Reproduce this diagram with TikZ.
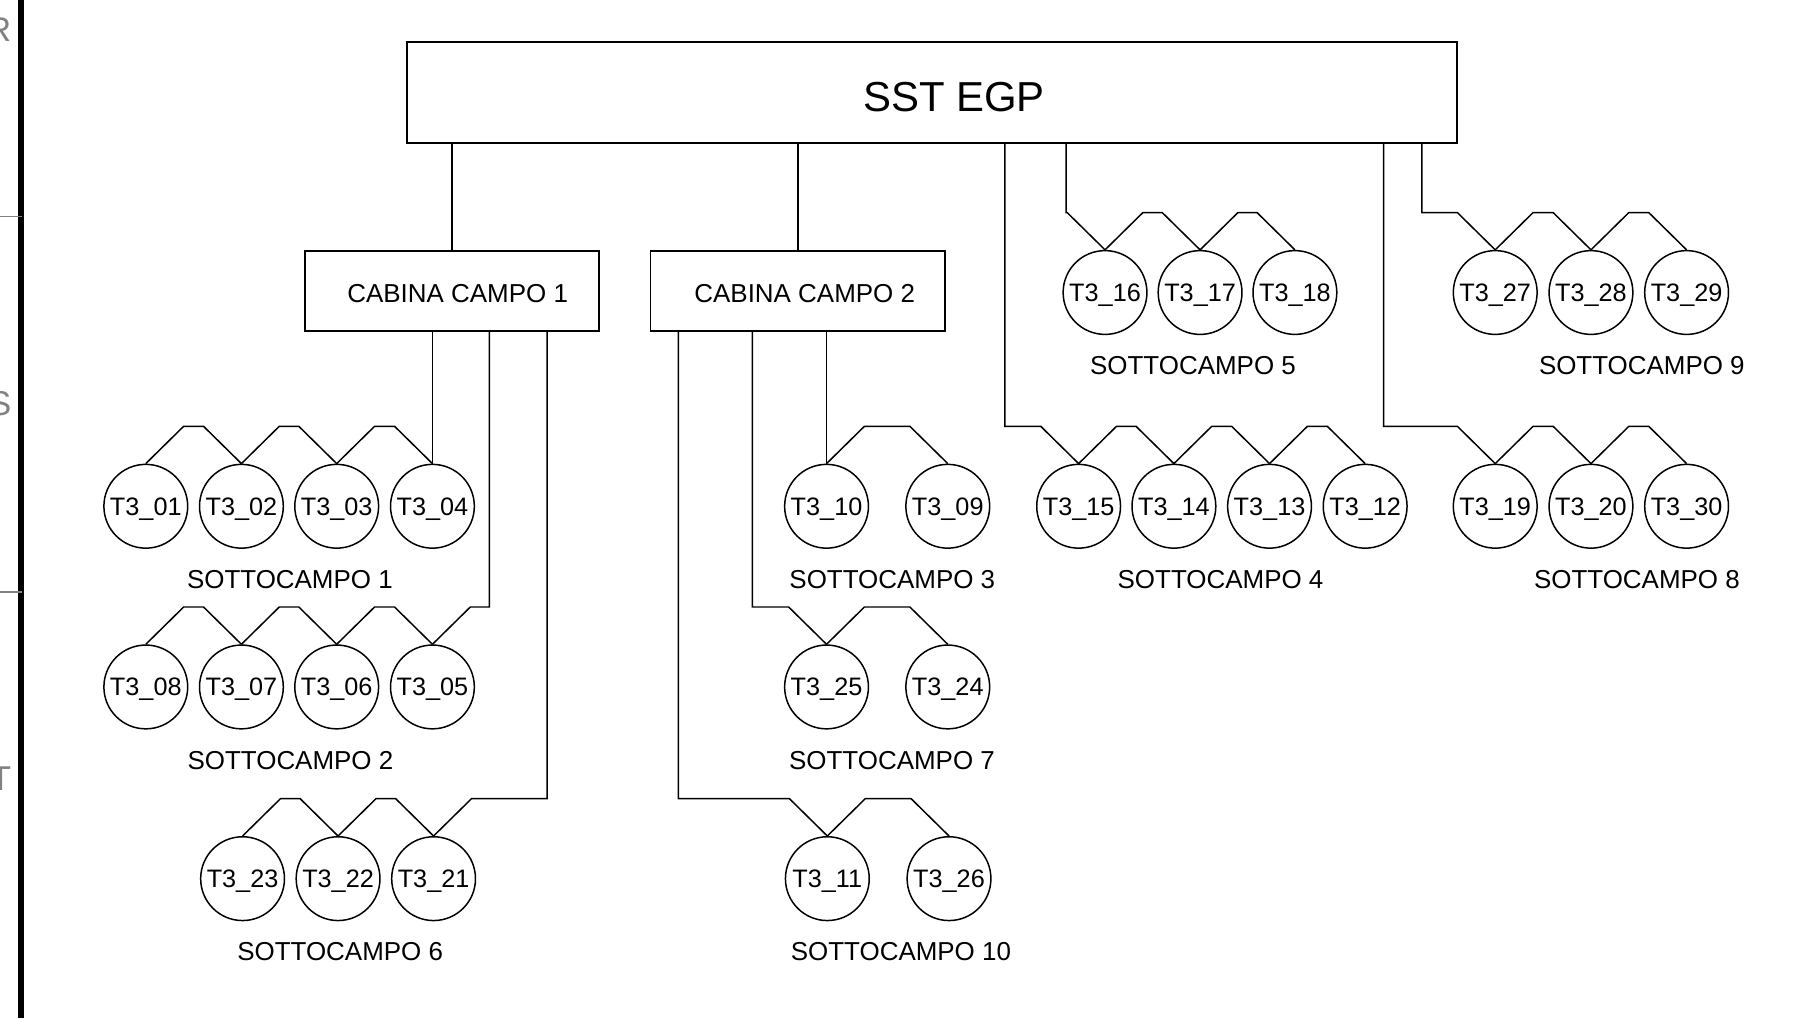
\documentclass[tikz,border=0pt]{standalone}
\usepackage{fontspec}
\setmainfont{Liberation Sans}
\usetikzlibrary{calc}
\definecolor{sidegray}{RGB}{130,130,130}
\newcommand\tzig[2]{\draw[wire] (#1.north) -- ++(33,-32.5) -- ([shift={(-33,-32.5)}]#2.north) -- (#2.north);}
\begin{document}
\begin{tikzpicture}[x=1pt,y=-1pt,
  box/.style={draw,line width=1.5pt,inner sep=0pt,text depth=0pt,font=\fontsize{22.6}{26}\selectfont},
  tr/.style={draw,circle,line width=1.3pt,inner sep=0pt,minimum size=73pt,text depth=0pt,font=\fontsize{22}{26}\selectfont},
  lab/.style={inner sep=0pt,text depth=0pt,font=\fontsize{22.6}{26}\selectfont},
  wire/.style={line width=1.3pt},
  side/.style={text=sidegray,inner sep=0pt,anchor=east,font=\fontsize{30}{34}\selectfont},
  tick/.style={draw=sidegray,line width=1.5pt}]
\useasboundingbox (0,0) rectangle (1568,887);
% left margin
\fill (16,0) rectangle (20.7,887);
\coordinate (m1) at (0,188.7);
\coordinate (m2) at (0,515.4);
\draw[tick] (m1) -- ++(19,0);
\draw[tick] (m2) -- ++(19,0);
\node[side] (lr) at (10,26) {R};
\node[side] (ls) at (10,351.7) {S};
\node[side] (lt) at (10,678.7) {T};
% boxes
\node[box,minimum width=914.9pt,minimum height=88pt,text height=34pt,font=\fontsize{36.5}{40}\selectfont] (sst) at (811.75,80.3) {\hspace*{38.5pt}SST EGP};
\node[box,minimum width=256pt,minimum height=69.9pt,text height=21pt] (cc1) at (393.7,253.35) {\hspace*{10pt}CABINA CAMPO 1};
\node[box,minimum width=256.7pt,minimum height=69.9pt,text height=21pt] (cc2) at (695,253.35) {\hspace*{12pt}CABINA CAMPO 2};
% SOTTOCAMPO 1
\node[tr] (t01) at (127,441) {T3\_01};
\node[tr] (t02) at (210.3,441) {T3\_02};
\node[tr] (t03) at (293.3,441) {T3\_03};
\node[tr] (t04) at (376.7,441) {T3\_04};
\node[lab] (s1) at (252.5,504.5) {SOTTOCAMPO 1};
% SOTTOCAMPO 2
\node[tr] (t08) at (127,598.4) {T3\_08};
\node[tr] (t07) at (210.3,598.4) {T3\_07};
\node[tr] (t06) at (293.3,598.4) {T3\_06};
\node[tr] (t05) at (376.7,598.4) {T3\_05};
\node[lab] (s2) at (253,662) {SOTTOCAMPO 2};
% SOTTOCAMPO 6
\node[tr] (t23) at (211.3,765.4) {T3\_23};
\node[tr] (t22) at (294.5,765.4) {T3\_22};
\node[tr] (t21) at (377.7,765.4) {T3\_21};
\node[lab] (s6) at (296.3,829) {SOTTOCAMPO 6};
% SOTTOCAMPO 3
\node[tr] (t10) at (720,441) {T3\_10};
\node[tr] (t09) at (825.6,441) {T3\_09};
\node[lab] (s3) at (777.3,504.5) {SOTTOCAMPO 3};
% SOTTOCAMPO 7
\node[tr] (t25) at (720,598.4) {T3\_25};
\node[tr] (t24) at (825.6,598.4) {T3\_24};
\node[lab] (s7) at (777,662.3) {SOTTOCAMPO 7};
% SOTTOCAMPO 10
\node[tr] (t11) at (720.7,765.4) {T3\_11};
\node[tr] (t26) at (826.7,765.4) {T3\_26};
\node[lab] (s10) at (784.8,829.2) {SOTTOCAMPO 10};
% SOTTOCAMPO 4
\node[tr] (t15) at (939.6,441) {T3\_15};
\node[tr] (t14) at (1022.6,441) {T3\_14};
\node[tr] (t13) at (1105.9,441) {T3\_13};
\node[tr] (t12) at (1189.2,441) {T3\_12};
\node[lab] (s4) at (1063.2,504.8) {SOTTOCAMPO 4};
% SOTTOCAMPO 5
\node[tr] (t16) at (962.6,254.8) {T3\_16};
\node[tr] (t17) at (1045.4,254.8) {T3\_17};
\node[tr] (t18) at (1128,254.8) {T3\_18};
\node[lab] (s5) at (1039.2,318.4) {SOTTOCAMPO 5};
% SOTTOCAMPO 8
\node[tr] (t19) at (1302.5,441) {T3\_19};
\node[tr] (t20) at (1385.9,441) {T3\_20};
\node[tr] (t30) at (1469.2,441) {T3\_30};
\node[lab] (s8) at (1425.9,504.8) {SOTTOCAMPO 8};
% SOTTOCAMPO 9
\node[tr] (t27) at (1302.5,254.8) {T3\_27};
\node[tr] (t28) at (1385.9,254.8) {T3\_28};
\node[tr] (t29) at (1469.2,254.8) {T3\_29};
\node[lab] (s9) at (1430.2,318.4) {SOTTOCAMPO 9};
% drop x positions
\coordinate (k2) at (426.3,0);
\coordinate (k6) at (476.5,0);
\coordinate (k7) at (655.3,0);
\coordinate (k10) at (591,0);
\coordinate (k4) at (875.3,0);
\coordinate (k5) at (928.6,0);
\coordinate (k8) at (1205.2,0);
\coordinate (k9) at (1238.5,0);
% main connections
\draw[wire] (sst.south -| cc1.north) -- (cc1.north);
\draw[wire] (sst.south -| cc2.north) -- (cc2.north);
\draw[wire] (cc1.south -| t04.north) -- (t04.north);
\draw[wire] (cc1.south -| k2) |- ([shift={(33,-32.5)}]t05.north) -- (t05.north);
\draw[wire] (cc1.south -| k6) |- ([shift={(33,-32.5)}]t21.north) -- (t21.north);
\draw[wire] (cc2.south -| t10.north) -- (t10.north);
\draw[wire] (cc2.south -| k7) |- ([shift={(-33,-32.5)}]t25.north) -- (t25.north);
\draw[wire] (cc2.south -| k10) |- ([shift={(-33,-32.5)}]t11.north) -- (t11.north);
\draw[wire] (sst.south -| k4) |- ([shift={(-33,-32.5)}]t15.north) -- (t15.north);
\draw[wire] (sst.south -| k5) |- ([shift={(-33,-32.5)}]t16.north) -- (t16.north);
\draw[wire] (sst.south -| k8) |- ([shift={(-33,-32.5)}]t19.north) -- (t19.north);
\draw[wire] (sst.south -| k9) |- ([shift={(-33,-32.5)}]t27.north) -- (t27.north);
% zigzags
\tzig{t01}{t02}\tzig{t02}{t03}\tzig{t03}{t04}
\tzig{t08}{t07}\tzig{t07}{t06}\tzig{t06}{t05}
\tzig{t23}{t22}\tzig{t22}{t21}
\tzig{t10}{t09}
\tzig{t25}{t24}
\tzig{t11}{t26}
\tzig{t15}{t14}\tzig{t14}{t13}\tzig{t13}{t12}
\tzig{t16}{t17}\tzig{t17}{t18}
\tzig{t19}{t20}\tzig{t20}{t30}
\tzig{t27}{t28}\tzig{t28}{t29}
\end{tikzpicture}
\end{document}
